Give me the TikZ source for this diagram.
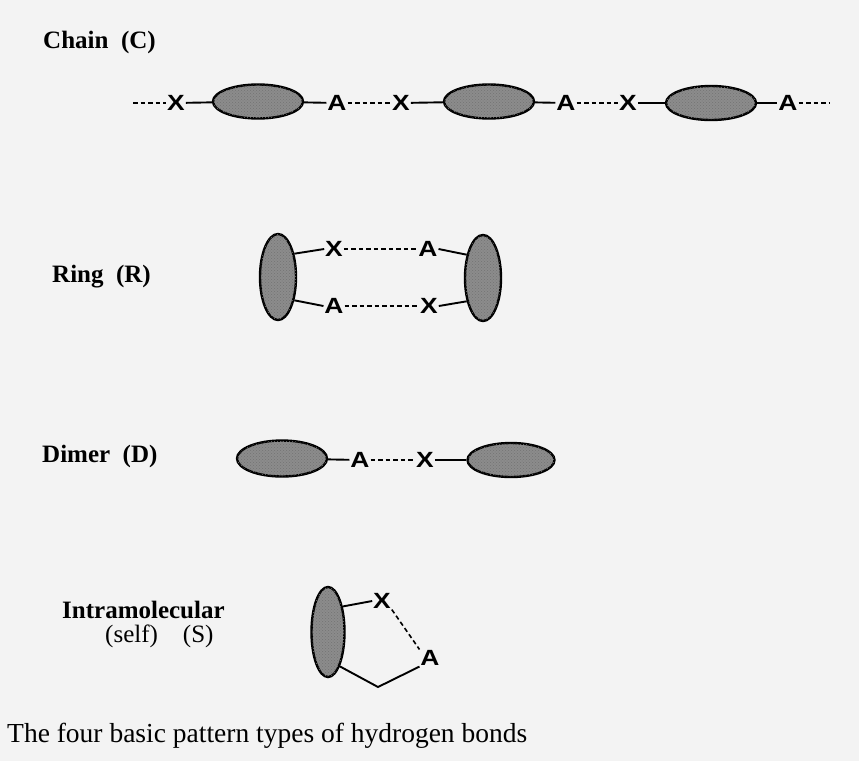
\documentclass[tikz,border=0pt]{standalone}
\usepackage{fontspec}
\setmainfont{Liberation Serif}
\newfontfamily\atomfont{Liberation Sans}
\usetikzlibrary{shapes.geometric,patterns}
\definecolor{paper}{HTML}{F3F3F3}
\definecolor{blob}{HTML}{8C8C8C}
\newcommand\atm[1]{\scalebox{1.2}[1]{#1}}
\begin{document}
\begin{tikzpicture}[x=1pt,y=-1pt,
  mol/.style={ellipse,draw=black,line width=2.4pt,fill=blob,inner sep=0pt,
    postaction={pattern=crosshatch dots,pattern color=black!55}},
  hmol/.style={mol,minimum width=90pt,minimum height=34pt},
  vmol/.style={mol,minimum width=36pt,minimum height=86pt},
  atom/.style={font=\atomfont\bfseries\fontsize{22}{22}\selectfont,inner sep=0.8pt},
  bond/.style={line width=1.9pt},
  hbond/.style={line width=1.6pt,dash pattern=on 4.5pt off 3pt},
  lab/.style={anchor=base west,inner sep=0pt,font=\bfseries\fontsize{25}{27}\selectfont}
]
\fill[paper] (0,0) rectangle (859,761);
\useasboundingbox (0,0) rectangle (859,761);

% Chain
\node[lab] (tC) at (43,48) {Chain\ \ (C)};
\coordinate (c0) at (133,103);
\node[atom] (X1) at (176,103) {\atm{X}};
\node[hmol] (E1) at (258,101.5) {};
\node[atom] (A1) at (337,103) {\atm{A}};
\node[atom] (X2) at (401,103) {\atm{X}};
\node[hmol] (E2) at (489,101.5) {};
\node[atom] (A2) at (566,103) {\atm{A}};
\node[atom] (X3) at (628,103) {\atm{X}};
\node[hmol] (E3) at (711,103) {};
\node[atom] (A3) at (788,103) {\atm{A}};
\coordinate (c1) at (830,103);
\draw[hbond] (c0) -- (X1);
\draw[bond] (X1) -- (E1);
\draw[bond] (E1) -- (A1);
\draw[hbond] (A1) -- (X2);
\draw[bond] (X2) -- (E2);
\draw[bond] (E2) -- (A2);
\draw[hbond] (A2) -- (X3);
\draw[bond] (X3) -- (E3);
\draw[bond] (E3) -- (A3);
\draw[hbond] (A3) -- (c1);

% Ring
\node[lab] (tR) at (52,282) {Ring\ \ (R)};
\node[vmol] (EL) at (278,277) {};
\node[vmol] (ER) at (483,278) {};
\node[atom] (Xt) at (334,249) {\atm{X}};
\node[atom] (At) at (428,249) {\atm{A}};
\node[atom] (Ab) at (334,306) {\atm{A}};
\node[atom] (Xb) at (429,306) {\atm{X}};
\draw[bond] (EL.55) -- (Xt.west);
\draw[hbond] (Xt) -- (At);
\draw[bond] (At.east) -- (ER.125);
\draw[bond] (EL.-55) -- (Ab.west);
\draw[hbond] (Ab) -- (Xb);
\draw[bond] (Xb.east) -- (ER.-125);

% Dimer
\node[lab] (tD) at (42,462) {Dimer\ \ (D)};
\node[hmol,minimum height=36pt] (D1) at (282,458.5) {};
\node[atom] (Ad) at (360,460) {\atm{A}};
\node[atom] (Xd) at (425,460) {\atm{X}};
\node[hmol,minimum width=87pt] (D2) at (511,460) {};
\draw[bond] (D1) -- (Ad);
\draw[hbond] (Ad) -- (Xd);
\draw[bond] (Xd) -- (D2);

% Intramolecular
\node[lab] (tS1) at (62,618) {Intramolecular};
\node[lab,font=\fontsize{25}{27}\selectfont] (tS2) at (105,642) {(self)\ \ \ \ (S)};
\node[mol,minimum width=33pt,minimum height=90pt] (ES) at (328,632) {};
\node[atom] (Xs) at (382,601) {\atm{X}};
\node[atom] (As) at (430,658) {\atm{A}};
\coordinate (kink) at (378,687);
\draw[bond] (ES.60) -- (Xs.west);
\draw[hbond] (Xs.south east) -- (As.north west);
\draw[bond] (ES.-71) -- (kink) -- (As.south west);

% Caption
\node[lab,font=\fontsize{27.5}{29}\selectfont] (cap) at (7,742) {The four basic pattern types of hydrogen bonds};
\end{tikzpicture}
\end{document}
